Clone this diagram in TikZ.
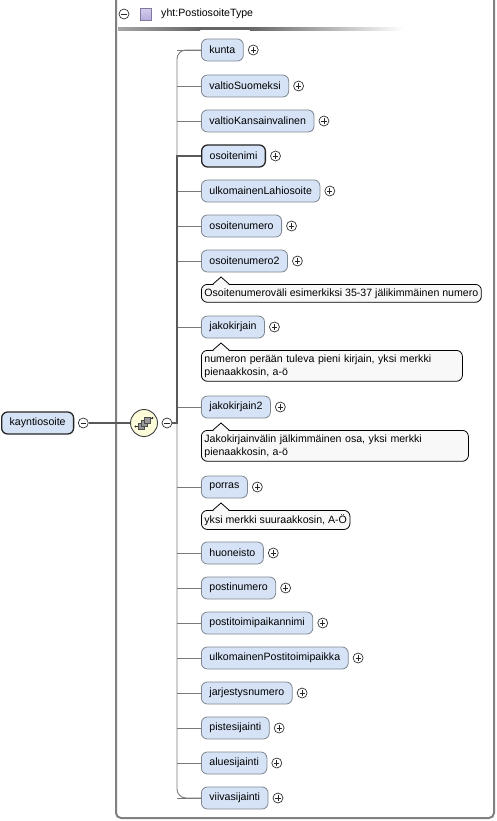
\documentclass[tikz,border=0pt]{standalone}
\usepackage{fontspec}
\setmainfont{Liberation Sans}
\definecolor{elemfill}{HTML}{D6E3F6}
\definecolor{elemborder}{HTML}{7F8790}
\definecolor{annotfill}{HTML}{F8F8F8}
\definecolor{boxgray}{HTML}{808080}
\definecolor{connc}{HTML}{7A7A7A}
\definecolor{compfill}{HTML}{FCFCDA}
\definecolor{lavender}{HTML}{B8ACE0}
\newcommand\efont{\fontsize{10.6}{13}\selectfont}
\tikzset{
  elem/.style={draw=elemborder, fill=elemfill, rounded corners=6pt, minimum height=22pt,
    inner xsep=8pt, inner ysep=0pt, anchor=west, font=\efont, line width=0.8pt},
  opt/.style={},
  mand/.style={draw=black!85, line width=1.3pt},
  pmcirc/.style={circle, draw=black!80, fill=white, minimum size=10pt, inner sep=0pt, line width=0.7pt},
  signline/.style={draw=black!85, line width=0.8pt},
  conn/.style={draw=connc, line width=0.9pt},
  thickconn/.style={draw=black!65, line width=2pt},
  annot/.style={draw=black, fill=annotfill, rounded corners=6pt, inner xsep=3pt, inner ysep=4pt,
    anchor=north west, font=\efont, align=left, line width=0.8pt},
  annotline/.style={draw=black, line width=0.8pt, line join=miter}
}
\newcommand\plusin[1]{\draw[signline] ([xshift=-2.6pt]#1.center) -- ([xshift=2.6pt]#1.center)
  ([yshift=-2.6pt]#1.center) -- ([yshift=2.6pt]#1.center);}
\newcommand\minusin[1]{\draw[signline] ([xshift=-2.6pt]#1.center) -- ([xshift=2.6pt]#1.center);}
\newcommand\annotnotch[1]{%
  \fill[annotfill] ([xshift=12pt,yshift=-1pt]#1.north west) -- ([xshift=20pt,yshift=7pt]#1.north west)
    -- ([xshift=28pt,yshift=-1pt]#1.north west) -- cycle;
  \draw[annotline] ([xshift=12pt]#1.north west) -- ([xshift=20pt,yshift=7pt]#1.north west)
    -- ([xshift=28pt]#1.north west);}
\begin{document}
\begin{tikzpicture}[x=1pt,y=-1pt]
\useasboundingbox (0,0) rectangle (497,821);
% outer type box
\draw[boxgray, line width=2pt, rounded corners=5pt] (116,-6) -- (116,818) -- (494,818) -- (494,-6);
% header
\node[pmcirc] (hdrminus) at (124,14) {};
\minusin{hdrminus}
\shade[top color=lavender!60, bottom color=lavender, draw=lavender!70!black, line width=0.5pt]
  (140,8.5) rectangle (151.5,20);
\node[anchor=west, font=\efont, inner sep=0pt] (hdrtext) at (161,14) {yht:PostiosoiteType};
\shade[left color=black!35, right color=black!60] (118,27.5) rectangle (200,30.5);
\fill[black!60] (200,27.5) rectangle (250,30.5);
\shade[left color=black!60, right color=white] (250,27.5) rectangle (404,30.5);
% bar coordinate
\coordinate (bar) at (177,0);
% elements
\foreach \n/\y/\t/\s in {
  kunta/50/kunta/opt,
  valtioSuomeksi/86/valtioSuomeksi/opt,
  valtioKansainvalinen/121/valtioKansainvalinen/opt,
  osoitenimi/156/osoitenimi/mand,
  ulkomainenLahiosoite/191/ulkomainenLahiosoite/opt,
  osoitenumero/226/osoitenumero/opt,
  osoitenumeroB/261/osoitenumero2/opt,
  jakokirjain/327/jakokirjain/opt,
  jakokirjainB/407/jakokirjain2/opt,
  porras/487/porras/opt,
  huoneisto/553/huoneisto/opt,
  postinumero/588/postinumero/opt,
  postitoimipaikannimi/623/postitoimipaikannimi/opt,
  ulkomainenPostitoimipaikka/658/ulkomainenPostitoimipaikka/opt,
  jarjestysnumero/693/jarjestysnumero/opt,
  pistesijainti/728/pistesijainti/opt,
  aluesijainti/763/aluesijainti/opt,
  viivasijainti/798/viivasijainti/opt}{
  \node[elem,\s] (\n) at (201,\y) {\t};
  \node[pmcirc] (\n-p) at ([xshift=9.5pt]\n.east) {};
  \plusin{\n-p}
  \draw[conn] (\n.west) -- (\n.west -| bar);
}
% vertical bar with rounded ends
\draw[conn, rounded corners=9pt] (kunta.west) -- (kunta.west -| bar) -- (viivasijainti.west -| bar) -- (viivasijainti.west);
% root element and compositor
\node[elem, mand] (root) at (1,423) {kayntiosoite};
\node[pmcirc] (root-m) at ([xshift=9pt]root.east) {};
\minusin{root-m}
\node[circle, draw=black!75, fill=compfill, minimum size=27pt, inner sep=0pt, line width=0.9pt] (comp) at (144,423) {};
\node[pmcirc] (comp-m) at (167,423) {};
\minusin{comp-m}
\draw[thickconn] (root-m.east) -- (comp.west);
\draw[thickconn] (comp-m.east) -- (comp-m.east -| bar) -- (osoitenimi.west -| bar) -- (osoitenimi.west);
% sequence icon
\begin{scope}[shift={(comp.center)}]
  \draw[black!80, line width=0.8pt] (-8.5,3.5) -- (-4,3.5) (4,-5) -- (8.5,-5);
  \fill[black!80] (-8.5,3.5) circle (1.2) (8.5,-5) circle (1.2);
  \filldraw[fill=black!40, draw=black!70, line width=0.5pt] (-6,0.5) rectangle (0,6.5);
  \filldraw[fill=black!40, draw=black!70, line width=0.5pt] (-3,-2.5) rectangle (3,3.5);
  \filldraw[fill=black!40, draw=black!70, line width=0.5pt] (0,-5.5) rectangle (6,0.5);
\end{scope}
% annotations
\node[annot] (a1) at (201,284) {Osoitenumeroväli esimerkiksi 35-37 jälikimmäinen numero};
\annotnotch{a1}
\node[annot, text width=255pt] (a2) at (201,350) {numeron perään tuleva pieni kirjain, yksi merkki\\pienaakkosin, a-ö};
\annotnotch{a2}
\node[annot, text width=261pt] (a3) at (201,430) {Jakokirjainvälin jälkimmäinen osa, yksi merkki\\pienaakkosin, a-ö};
\annotnotch{a3}
\node[annot] (a4) at (201,510) {yksi merkki suuraakkosin, A-Ö};
\annotnotch{a4}
\end{tikzpicture}
\end{document}
